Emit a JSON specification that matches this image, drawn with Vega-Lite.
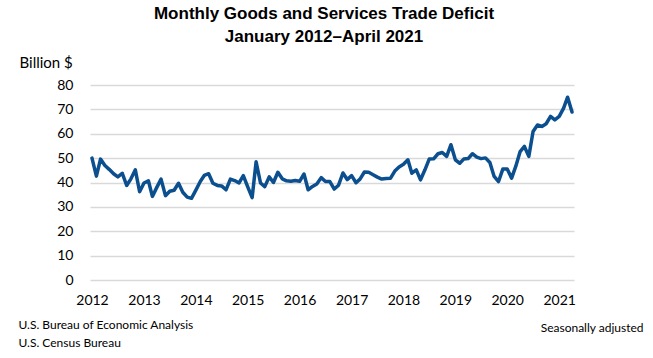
{
  "$schema": "https://vega.github.io/schema/vega-lite/v6.json",
  "width": 484,
  "height": 195,
  "autosize": "none",
  "padding": {"left": 90, "top": 85, "right": 79, "bottom": 78},
  "background": "white",
  "config": {"view": {"stroke": null}, "font": "Lato"},
  "title": {
    "text": ["Monthly Goods and Services Trade Deficit", "January 2012–April 2021"],
    "font": "Liberation Sans",
    "fontSize": 17,
    "fontWeight": "bold",
    "color": "#000000",
    "anchor": "middle",
    "frame": "group",
    "dx": -8,
    "lineHeight": 23,
    "offset": 9
  },
  "data": {
    "values": [
      {"d": "2012/01/01", "v": 50.0}, {"d": "2012/02/01", "v": 42.6}, {"d": "2012/03/01", "v": 49.6}, {"d": "2012/04/01", "v": 47.0},
      {"d": "2012/05/01", "v": 45.4}, {"d": "2012/06/01", "v": 43.6}, {"d": "2012/07/01", "v": 42.3}, {"d": "2012/08/01", "v": 43.8},
      {"d": "2012/09/01", "v": 38.8}, {"d": "2012/10/01", "v": 41.5}, {"d": "2012/11/01", "v": 45.2}, {"d": "2012/12/01", "v": 36.2},
      {"d": "2013/01/01", "v": 39.8}, {"d": "2013/02/01", "v": 40.7}, {"d": "2013/03/01", "v": 34.3}, {"d": "2013/04/01", "v": 38.0},
      {"d": "2013/05/01", "v": 41.4}, {"d": "2013/06/01", "v": 34.6}, {"d": "2013/07/01", "v": 36.4}, {"d": "2013/08/01", "v": 36.8},
      {"d": "2013/09/01", "v": 39.7}, {"d": "2013/10/01", "v": 36.0}, {"d": "2013/11/01", "v": 34.0}, {"d": "2013/12/01", "v": 33.5},
      {"d": "2014/01/01", "v": 36.9}, {"d": "2014/02/01", "v": 40.4}, {"d": "2014/03/01", "v": 42.9}, {"d": "2014/04/01", "v": 43.6},
      {"d": "2014/05/01", "v": 39.7}, {"d": "2014/06/01", "v": 38.8}, {"d": "2014/07/01", "v": 38.6}, {"d": "2014/08/01", "v": 37.0},
      {"d": "2014/09/01", "v": 41.4}, {"d": "2014/10/01", "v": 40.8}, {"d": "2014/11/01", "v": 39.8}, {"d": "2014/12/01", "v": 42.8},
      {"d": "2015/01/01", "v": 38.2}, {"d": "2015/02/01", "v": 33.8}, {"d": "2015/03/01", "v": 48.5}, {"d": "2015/04/01", "v": 39.8},
      {"d": "2015/05/01", "v": 38.3}, {"d": "2015/06/01", "v": 42.3}, {"d": "2015/07/01", "v": 40.0}, {"d": "2015/08/01", "v": 44.2},
      {"d": "2015/09/01", "v": 41.5}, {"d": "2015/10/01", "v": 40.7}, {"d": "2015/11/01", "v": 40.5}, {"d": "2015/12/01", "v": 40.8},
      {"d": "2016/01/01", "v": 40.5}, {"d": "2016/02/01", "v": 43.5}, {"d": "2016/03/01", "v": 37.0}, {"d": "2016/04/01", "v": 38.4},
      {"d": "2016/05/01", "v": 39.4}, {"d": "2016/06/01", "v": 42.0}, {"d": "2016/07/01", "v": 40.4}, {"d": "2016/08/01", "v": 40.4},
      {"d": "2016/09/01", "v": 37.3}, {"d": "2016/10/01", "v": 38.9}, {"d": "2016/11/01", "v": 43.9}, {"d": "2016/12/01", "v": 41.2},
      {"d": "2017/01/01", "v": 42.8}, {"d": "2017/02/01", "v": 39.9}, {"d": "2017/03/01", "v": 41.4}, {"d": "2017/04/01", "v": 44.3},
      {"d": "2017/05/01", "v": 44.2}, {"d": "2017/06/01", "v": 43.2}, {"d": "2017/07/01", "v": 42.2}, {"d": "2017/08/01", "v": 41.4},
      {"d": "2017/09/01", "v": 41.6}, {"d": "2017/10/01", "v": 41.7}, {"d": "2017/11/01", "v": 44.7}, {"d": "2017/12/01", "v": 46.4},
      {"d": "2018/01/01", "v": 47.5}, {"d": "2018/02/01", "v": 49.3}, {"d": "2018/03/01", "v": 43.8}, {"d": "2018/04/01", "v": 45.2},
      {"d": "2018/05/01", "v": 41.1}, {"d": "2018/06/01", "v": 45.2}, {"d": "2018/07/01", "v": 49.6}, {"d": "2018/08/01", "v": 49.7},
      {"d": "2018/09/01", "v": 51.8}, {"d": "2018/10/01", "v": 52.3}, {"d": "2018/11/01", "v": 50.7}, {"d": "2018/12/01", "v": 55.5},
      {"d": "2019/01/01", "v": 49.3}, {"d": "2019/02/01", "v": 47.9}, {"d": "2019/03/01", "v": 49.6}, {"d": "2019/04/01", "v": 49.8},
      {"d": "2019/05/01", "v": 51.8}, {"d": "2019/06/01", "v": 50.4}, {"d": "2019/07/01", "v": 49.8}, {"d": "2019/08/01", "v": 50.1},
      {"d": "2019/09/01", "v": 48.2}, {"d": "2019/10/01", "v": 42.5}, {"d": "2019/11/01", "v": 40.4}, {"d": "2019/12/01", "v": 45.5},
      {"d": "2020/01/01", "v": 45.5}, {"d": "2020/02/01", "v": 41.8}, {"d": "2020/03/01", "v": 46.6}, {"d": "2020/04/01", "v": 52.7},
      {"d": "2020/05/01", "v": 54.8}, {"d": "2020/06/01", "v": 50.7}, {"d": "2020/07/01", "v": 60.9}, {"d": "2020/08/01", "v": 63.6},
      {"d": "2020/09/01", "v": 63.0}, {"d": "2020/10/01", "v": 64.1}, {"d": "2020/11/01", "v": 67.1}, {"d": "2020/12/01", "v": 65.7},
      {"d": "2021/01/01", "v": 67.1}, {"d": "2021/02/01", "v": 70.5}, {"d": "2021/03/01", "v": 75.0}, {"d": "2021/04/01", "v": 68.9}
    ]
  },
  "encoding": {
    "x": {
      "field": "d",
      "type": "temporal",
      "scale": {
        "domain": [
          {"year": 2011, "month": 12, "date": 18},
          {"year": 2021, "month": 4, "date": 15}
        ]
      },
      "axis": {
        "format": "%Y",
        "tickCount": {"interval": "year", "step": 1},
        "grid": false,
        "domain": false,
        "ticks": false,
        "labelFont": "Lato",
        "labelFontSize": 14,
        "labelColor": "#000000",
        "labelPadding": 13,
        "labelFlush": false,
        "labelOverlap": false,
        "title": ["U.S. Bureau of Economic Analysis", "U.S. Census Bureau"],
        "titleFont": "Lato",
        "titleFontSize": 12,
        "titleFontWeight": "normal",
        "titleColor": "#000000",
        "titleAnchor": null,
        "titleAlign": "left",
        "titleBaseline": "top",
        "titleX": -72,
        "titleY": 39,
        "titleLineHeight": 18
      }
    }
  },
  "layer": [
    {
      "mark": {"type": "line", "color": "#0b4f8f", "strokeWidth": 3.5, "strokeJoin": "round", "strokeCap": "round"},
      "encoding": {
        "y": {
          "field": "v",
          "type": "quantitative",
          "scale": {"domain": [0, 80], "nice": false},
          "axis": {
            "values": [0, 10, 20, 30, 40, 50, 60, 70, 80],
            "grid": true,
            "gridColor": "#d9d9d9",
            "gridWidth": 1.5,
            "domain": false,
            "ticks": false,
            "labelFont": "Lato",
            "labelFontSize": 14,
            "labelColor": "#000000",
            "labelPadding": 17,
            "title": "Billion $",
            "titleFont": "Lato",
            "titleFontSize": 15,
            "titleFontWeight": "normal",
            "titleColor": "#000000",
            "titleAngle": 0,
            "titleAnchor": null,
            "titleAlign": "left",
            "titleBaseline": "middle",
            "titleX": -71,
            "titleY": -23
          }
        }
      }
    },
    {
      "mark": {"type": "line", "opacity": 0},
      "encoding": {
        "y": {
          "field": "v",
          "type": "quantitative",
          "scale": {"domain": [0, 80], "nice": false},
          "axis": {
            "orient": "right",
            "labels": false,
            "ticks": false,
            "domain": false,
            "grid": false,
            "title": "Seasonally adjusted",
            "titleFont": "Lato",
            "titleFontSize": 12,
            "titleFontWeight": "normal",
            "titleColor": "#000000",
            "titleAngle": 0,
            "titleAnchor": null,
            "titleAlign": "right",
            "titleBaseline": "middle",
            "titleX": 69,
            "titleY": 242
          }
        }
      }
    }
  ],
  "resolve": {"axis": {"y": "independent"}}
}
